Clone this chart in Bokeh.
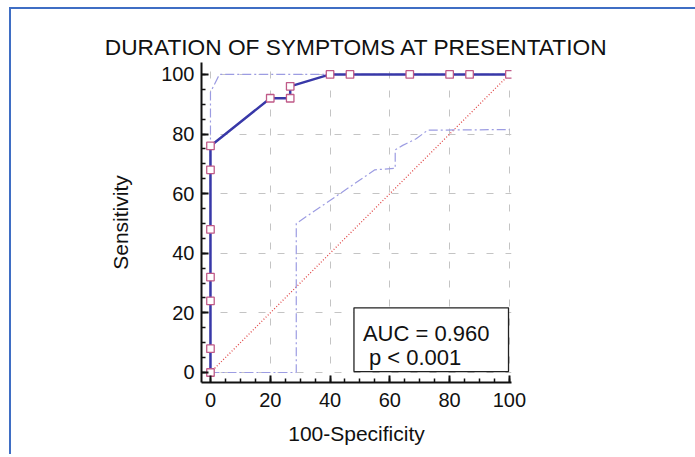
from bokeh.plotting import figure
from bokeh.models import Range1d, FixedTicker, BoxAnnotation, Label
from bokeh.embed import file_html
from bokeh.resources import INLINE

# ---- data ----
title_text = "DURATION OF SYMPTOMS AT PRESENTATION"
x_label = "100-Specificity"
y_label = "Sensitivity"
major_ticks = [0, 20, 40, 60, 80, 100]
minor_ticks = [0, 5, 10, 15, 20, 25, 30, 35, 40, 45, 50, 55, 60, 65, 70, 75, 80, 85, 90, 95, 100]

roc_fpr = [0, 0, 0, 0, 0, 0, 0, 20, 26.67, 26.67, 40, 46.67, 66.67, 80, 86.67, 100]
roc_sens = [0, 8, 24, 32, 48, 68, 76, 92, 92, 96, 100, 100, 100, 100, 100, 100]

ci_upper_x = [0, 0, 3, 100]
ci_upper_y = [0, 94, 100, 100]
ci_lower_x = [0, 28.7, 28.7, 55, 61.8, 61.8, 64.3, 68.8, 72.7, 100]
ci_lower_y = [0, 0, 50, 68, 68.5, 74.7, 76.2, 78.4, 81.3, 81.5]

diag_x = [0, 100]
diag_y = [0, 100]

auc_text = "AUC = 0.960"
p_text = "p < 0.001"

FONT = "Liberation Sans"

p = figure(
    frame_width=310, frame_height=320,
    min_border_left=190, min_border_right=194,
    min_border_top=53, min_border_bottom=74,
    x_range=Range1d(-3.0, 100.7), y_range=Range1d(-3.36, 104.0),
    output_backend="svg", toolbar_location=None,
    title=title_text,
    styles={"margin-left": "11px", "margin-top": "9px",
            "box-shadow": "-2px -2px 0px 0px #3f6ec4"},
)
p.background_fill_color = "white"
p.border_fill_color = "white"
p.outline_line_color = None

p.title.align = "center"
p.title.text_font = FONT
p.title.text_font_size = "22.7px"
p.title.text_font_style = "normal"
p.title.text_color = "#111111"
p.title.standoff = 6

for ax in (p.xaxis[0], p.yaxis[0]):
    ax.ticker = FixedTicker(ticks=major_ticks, minor_ticks=minor_ticks)
    ax.axis_line_width = 2
    ax.axis_line_color = "#111111"
    ax.major_tick_in = 7
    ax.major_tick_out = 0
    ax.minor_tick_in = 4
    ax.minor_tick_out = 0
    ax.major_tick_line_width = 2
    ax.major_tick_line_color = "#111111"
    ax.minor_tick_line_width = 1.5
    ax.minor_tick_line_color = "#111111"
    ax.major_label_text_font = FONT
    ax.major_label_text_font_size = "20px"
    ax.major_label_text_color = "#111111"
    ax.axis_label_text_font = FONT
    ax.axis_label_text_font_size = "21px"
    ax.axis_label_text_font_style = "normal"
    ax.axis_label_text_color = "#111111"

p.xaxis.axis_label = x_label
p.yaxis.axis_label = y_label
p.xaxis.major_label_standoff = 10
p.yaxis.major_label_standoff = 7
p.xaxis.axis_label_standoff = 12
p.yaxis.axis_label_standoff = 26

for g in (p.xgrid[0], p.ygrid[0]):
    g.ticker = FixedTicker(ticks=major_ticks)
    g.grid_line_color = "#c4c4c4"
    g.grid_line_dash = "7 12"
    g.grid_line_width = 1

p.line(diag_x, diag_y, line_color="#e04848", line_dash="1 2", line_width=1.3)
p.line(ci_upper_x, ci_upper_y, line_color="#9c9ce2", line_dash="9 3 2 3", line_width=1.2)
p.line(ci_lower_x, ci_lower_y, line_color="#9c9ce2", line_dash="9 3 2 3", line_width=1.2)
p.line(roc_fpr, roc_sens, line_color="#3838a8", line_width=2.5)
p.scatter(roc_fpr, roc_sens, marker="square", size=7.5, fill_color="white",
          line_color="#c05a88", line_width=1.3)

box = BoxAnnotation(left=48, right=99.7, bottom=0.3, top=21.7,
                    fill_color="white", fill_alpha=1.0,
                    line_color="#222222", line_width=1.3, line_alpha=1.0)
p.add_layout(box)
p.add_layout(Label(x=51, y=13, text=auc_text, text_font=FONT, text_font_size="22px",
                   text_color="#111111", text_baseline="alphabetic"))
p.add_layout(Label(x=53, y=5, text=p_text, text_font=FONT, text_font_size="22px",
                   text_color="#111111", text_baseline="alphabetic"))

open("out.html", "w").write(file_html(p, INLINE))
